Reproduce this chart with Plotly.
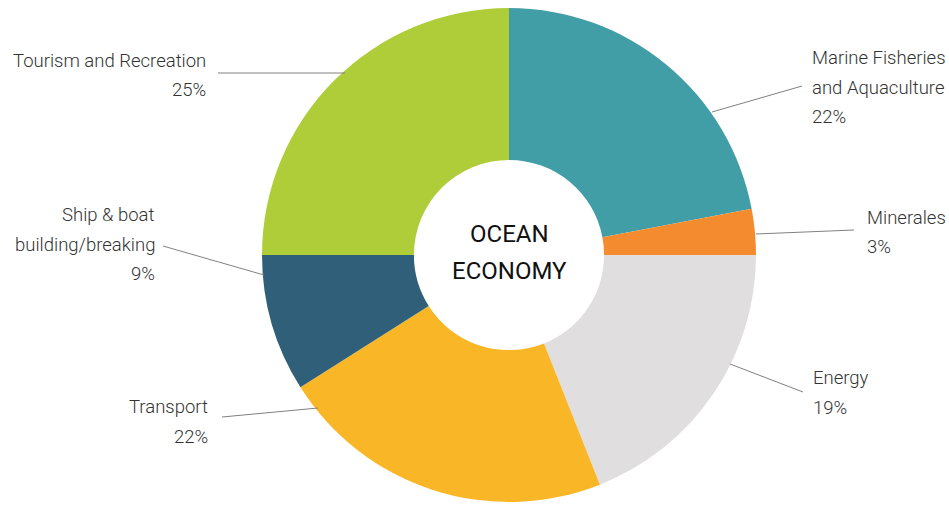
import plotly.graph_objects as go

W, H = 949, 506

categories = ["Marine Fisheries and Aquaculture", "Minerales", "Energy", "Transport",
              "Ship & boat building/breaking", "Tourism and Recreation"]
values = [22, 3, 19, 22, 9, 25]
colors = ["#429EA6", "#F58B2F", "#E0DEDF", "#F9B727", "#306079", "#AECD38"]

# label lines (text) per category, and layout placement
label_lines = {
    "Marine Fisheries and Aquaculture": ["Marine Fisheries", "and Aquaculture"],
    "Minerales": ["Minerales"],
    "Energy": ["Energy"],
    "Transport": ["Transport"],
    "Ship & boat building/breaking": ["Ship & boat", "building/breaking"],
    "Tourism and Recreation": ["Tourism and Recreation"],
}
# (anchor x px, first-line y px, xanchor)
label_pos = {
    "Marine Fisheries and Aquaculture": (810, 58, "left"),
    "Minerales": (865, 218, "left"),
    "Energy": (811, 378, "left"),
    "Transport": (210, 407, "right"),
    "Ship & boat building/breaking": (157, 215, "right"),
    "Tourism and Recreation": (208, 61, "right"),
}
# leader lines (start px, end px)
leaders = {
    "Marine Fisheries and Aquaculture": ((712, 112), (802, 86)),
    "Minerales": ((756, 234), (854, 230)),
    "Energy": ((730, 364), (803, 392)),
    "Transport": ((222, 417), (318, 408)),
    "Ship & boat building/breaking": ((163, 246), (264, 275)),
    "Tourism and Recreation": ((218, 73), (345, 73)),
}

def px(x):
    return x / W

def py(y):
    return 1 - y / H

cx, cy, R = 509, 255, 247

fig = go.Figure(go.Pie(
    labels=categories,
    values=values,
    marker=dict(colors=colors, line=dict(width=0)),
    hole=0.385,
    sort=False,
    direction="clockwise",
    rotation=0,
    textinfo="none",
    hoverinfo="label+percent",
    showlegend=False,
    domain=dict(x=[px(cx - R), px(cx + R)], y=[py(cy + R), py(cy - R)]),
))

LINE_H = 29.5
annotations = []
shapes = []
font = dict(family="Roboto", size=18.5, color="#333333", weight=300)
for cat, v in zip(categories, values):
    x, y0, anchor = label_pos[cat]
    lines = label_lines[cat] + [f"{v}%"]
    for i, t in enumerate(lines):
        annotations.append(dict(
            x=px(x), y=py(y0 + i * LINE_H), xref="paper", yref="paper",
            text=t, showarrow=False, xanchor=anchor, yanchor="middle",
            font=font,
        ))
    (x1, y1), (x2, y2) = leaders[cat]
    shapes.append(dict(type="line", xref="paper", yref="paper",
                       x0=px(x1), y0=py(y1), x1=px(x2), y1=py(y2),
                       line=dict(color="#808080", width=1)))

center_font = dict(family="Roboto", size=24, color="#111111")
annotations.append(dict(x=px(cx), y=py(234), xref="paper", yref="paper", text="OCEAN",
                        showarrow=False, xanchor="center", yanchor="middle", font=center_font))
annotations.append(dict(x=px(cx), y=py(271), xref="paper", yref="paper", text="ECONOMY",
                        showarrow=False, xanchor="center", yanchor="middle", font=center_font))

fig.update_layout(
    width=W, height=H,
    margin=dict(l=0, r=0, t=0, b=0),
    paper_bgcolor="white",
    plot_bgcolor="white",
    annotations=annotations,
    shapes=shapes,
)

fig.write_html("out.html")
